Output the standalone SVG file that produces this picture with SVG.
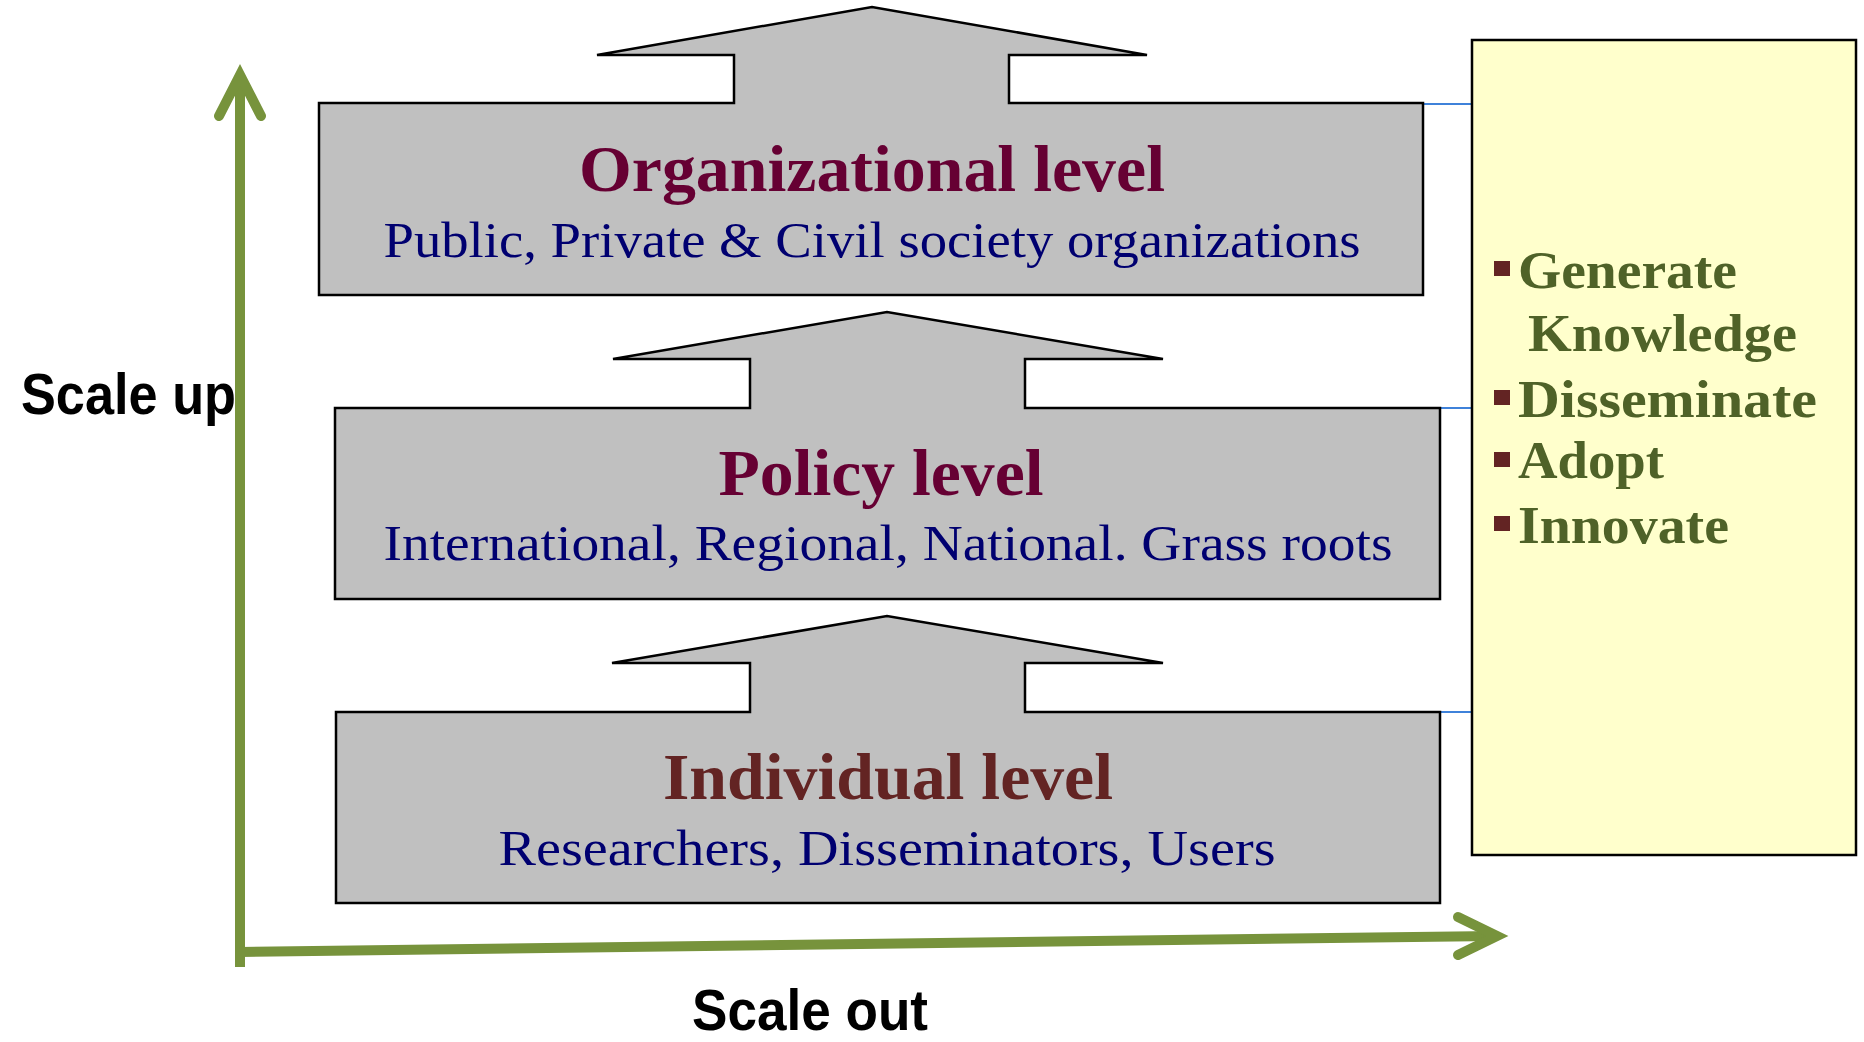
<svg xmlns="http://www.w3.org/2000/svg" width="1864" height="1042" viewBox="0 0 1864 1042">
  <style>
    .lvl { fill: #C0C0C0; stroke: #000; stroke-width: 2.5; stroke-linejoin: miter; }
    .title { font-family: "Liberation Serif", "DejaVu Serif", serif; font-weight: bold; font-size: 65px; text-anchor: middle; }
    .sub { font-family: "Liberation Serif", "DejaVu Serif", serif; font-size: 51px; fill: #000070; text-anchor: middle; }
    .item { font-family: "Liberation Serif", "DejaVu Serif", serif; font-weight: bold; font-size: 52px; fill: #4F6228; }
    .bullet { fill: #632423; }
    .axis { fill: none; stroke: #77933C; stroke-width: 10; }
    .axislbl { font-family: "Liberation Sans", Arial, sans-serif; font-weight: bold; font-size: 57px; fill: #000; }
    .link { stroke: #3F82DA; stroke-width: 2; fill: none; }
  </style>
  <rect x="0" y="0" width="1864" height="1042" fill="#FFFFFF"/>

  <g id="connectors">
    <line class="link" x1="1423" y1="104" x2="1472" y2="104"/>
    <line class="link" x1="1423" y1="408" x2="1472" y2="408"/>
    <line class="link" x1="1438" y1="712" x2="1472" y2="712"/>
  </g>

  <g id="organizational">
    <path class="lvl" d="M319,103 H734 V55 H597 L872,7 L1147,55 H1009 V103 H1423 V295 H319 Z"/>
    <text class="title" x="872" y="191" fill="#660033" textLength="586" lengthAdjust="spacingAndGlyphs">Organizational level</text>
    <text class="sub" x="872" y="257" textLength="977" lengthAdjust="spacingAndGlyphs">Public, Private &amp; Civil society organizations</text>
  </g>

  <g id="policy">
    <path class="lvl" d="M335,408 H750 V359 H613 L887,312 L1163,359 H1025 V408 H1440 V599 H335 Z"/>
    <text class="title" x="881" y="495" fill="#660033" textLength="325" lengthAdjust="spacingAndGlyphs">Policy level</text>
    <text class="sub" x="888" y="560" textLength="1009" lengthAdjust="spacingAndGlyphs">International, Regional, National. Grass roots</text>
  </g>

  <g id="individual">
    <path class="lvl" d="M336,712 H750 V663 H612 L887,616 L1163,663 H1025 V712 H1440 V903 H336 Z"/>
    <text class="title" x="888" y="799" fill="#632423" textLength="450" lengthAdjust="spacingAndGlyphs">Individual level</text>
    <text class="sub" x="887" y="865" textLength="777" lengthAdjust="spacingAndGlyphs">Researchers, Disseminators, Users</text>
  </g>

  <g id="activities">
    <rect x="1472" y="40" width="384" height="815" fill="#FFFFCC" stroke="#000" stroke-width="2.5"/>
    <rect class="bullet" x="1494" y="261" width="16" height="15"/>
    <text class="item" x="1518" y="288" textLength="219" lengthAdjust="spacingAndGlyphs">Generate</text>
    <text class="item" x="1528" y="351" textLength="269" lengthAdjust="spacingAndGlyphs">Knowledge</text>
    <rect class="bullet" x="1494" y="390" width="16" height="15"/>
    <text class="item" x="1518" y="417" textLength="299" lengthAdjust="spacingAndGlyphs">Disseminate</text>
    <rect class="bullet" x="1494" y="452" width="16" height="15"/>
    <text class="item" x="1518" y="478" textLength="146" lengthAdjust="spacingAndGlyphs">Adopt</text>
    <rect class="bullet" x="1494" y="516" width="16" height="15"/>
    <text class="item" x="1518" y="543" textLength="211" lengthAdjust="spacingAndGlyphs">Innovate</text>
  </g>

  <g id="axes">
    <line class="axis" x1="240" y1="967" x2="240" y2="76"/>
    <polyline class="axis" points="219,116 240,75 261,116" stroke-linecap="round" stroke-linejoin="miter"/>
    <line class="axis" x1="240" y1="952" x2="1495" y2="936"/>
    <polyline class="axis" points="1458,917 1497,936 1458,955" stroke-linecap="round" stroke-linejoin="miter"/>
    <text class="axislbl" x="21" y="414" textLength="215" lengthAdjust="spacingAndGlyphs">Scale up</text>
    <text class="axislbl" x="692" y="1030" font-size="55" textLength="236" lengthAdjust="spacingAndGlyphs">Scale out</text>
  </g>
</svg>
